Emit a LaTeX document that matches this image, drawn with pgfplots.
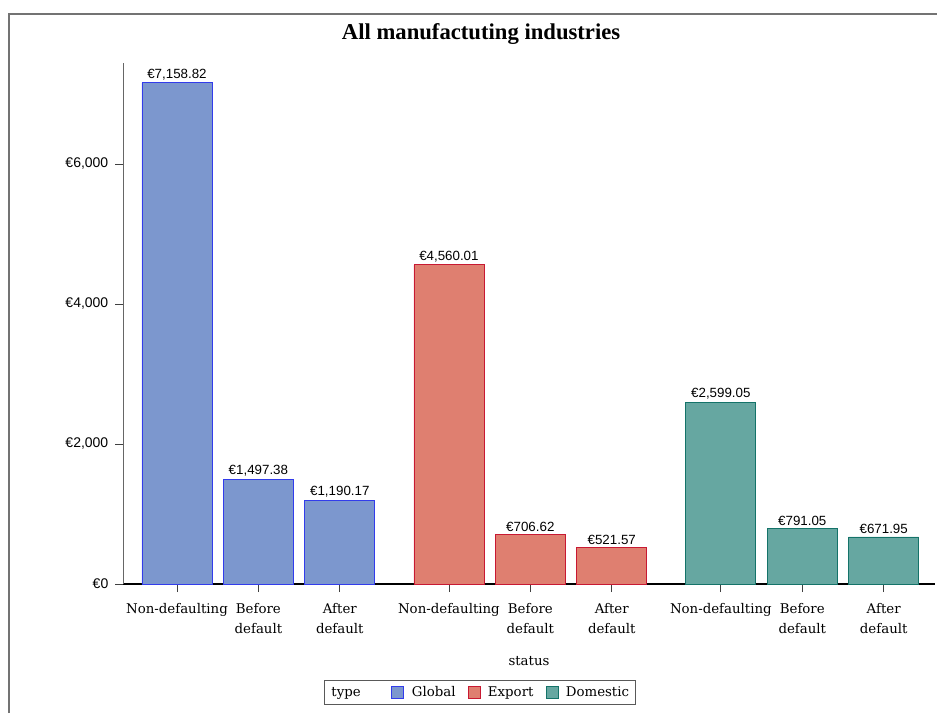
\documentclass[border=0pt]{standalone}
\usepackage{fontspec}
\setmainfont{Liberation Serif}
\newfontfamily\labfont{Liberation Sans}
\newfontfamily\serfont{DejaVu Serif}
\usepackage{pgfplots}
\pgfplotsset{compat=1.18}
\definecolor{gfill}{RGB}{124,151,206}
\definecolor{gedge}{RGB}{50,60,235}
\definecolor{efill}{RGB}{223,127,112}
\definecolor{eedge}{RGB}{200,25,50}
\definecolor{dfill}{RGB}{102,167,161}
\definecolor{dedge}{RGB}{20,115,105}
\begin{document}
\begin{tikzpicture}
\useasboundingbox (0,0) rectangle (702.75pt,534.75pt);
\draw[black!55, line width=1.2pt] (6.75pt,0pt) -- (6.75pt,524.25pt) -- (702.75pt,524.25pt);
\begin{axis}[
  at={(92.25pt,96.75pt)}, anchor=south west,
  scale only axis, width=609pt, height=390.75pt,
  xmin=0.337, xmax=10.31, ymin=0, ymax=7443,
  axis x line*=bottom, axis y line*=left,
  axis line style={-},
  x axis line style={black, line width=1pt},
  y axis line style={black!60, line width=0.6pt},
  tick align=outside,
  major tick length=6pt,
  tick style={black!75, line width=0.6pt},
  xtick={1,2,3,4.34,5.34,6.34,7.68,8.68,9.68},
  xticklabels={Non-defaulting,{Before\\default},{After\\default},Non-defaulting,{Before\\default},{After\\default},Non-defaulting,{Before\\default},{After\\default}},
  xticklabel style={font=\serfont\fontsize{10}{15}\selectfont, align=center, text depth=0pt, anchor=north, yshift=-5pt},
  ytick={0,2000,4000,6000},
  yticklabels={{€0},{€2,000},{€4,000},{€6,000}},
  yticklabel style={font=\labfont\fontsize{10.5}{11}\selectfont, xshift=-1.5pt},
  xlabel={status},
  xlabel style={font=\serfont\fontsize{10}{11}\selectfont, at={(axis description cs:0.5,-0.148)}, anchor=center},
  title={All manufactuting industries},
  title style={font=\bfseries\fontsize{17}{18}\selectfont, at={(axis description cs:0.441,1.040)}, anchor=center},
  ybar, bar width=0.86, bar shift=0pt,
  nodes near coords,
  point meta=explicit symbolic,
  every node near coord/.append style={font=\labfont\fontsize{10}{11}\selectfont, black, inner sep=2pt},
  legend columns=-1,
  legend style={at={(axis description cs:0.44,-0.184)}, anchor=north, draw=black!65, line width=0.8pt,
    font=\serfont\fontsize{10}{11}\selectfont, inner xsep=3pt, inner ysep=2.5pt,
    /tikz/every even column/.append style={column sep=7pt}},
  legend image code/.code={\draw[#1, line width=0.6pt] (0pt,-4.5pt) rectangle (9pt,4.5pt); \path[draw=none, fill=none] (9pt,0pt) -- (13pt,0pt);},
]
\addlegendimage{empty legend}
\addlegendentry{type\kern14pt}
\addplot[fill=gfill, draw=gedge, line width=0.6pt] table[meta=label] {
x y label
1 7158.82 €7,158.82
2 1497.38 €1,497.38
3 1190.17 €1,190.17
};
\addlegendentry{Global}
\addplot[fill=efill, draw=eedge, line width=0.6pt] table[meta=label] {
x y label
4.34 4560.01 €4,560.01
5.34 706.62 €706.62
6.34 521.57 €521.57
};
\addlegendentry{Export}
\addplot[fill=dfill, draw=dedge, line width=0.6pt] table[meta=label] {
x y label
7.68 2599.05 €2,599.05
8.68 791.05 €791.05
9.68 671.95 €671.95
};
\addlegendentry{Domestic}
\end{axis}
\end{tikzpicture}
\end{document}
